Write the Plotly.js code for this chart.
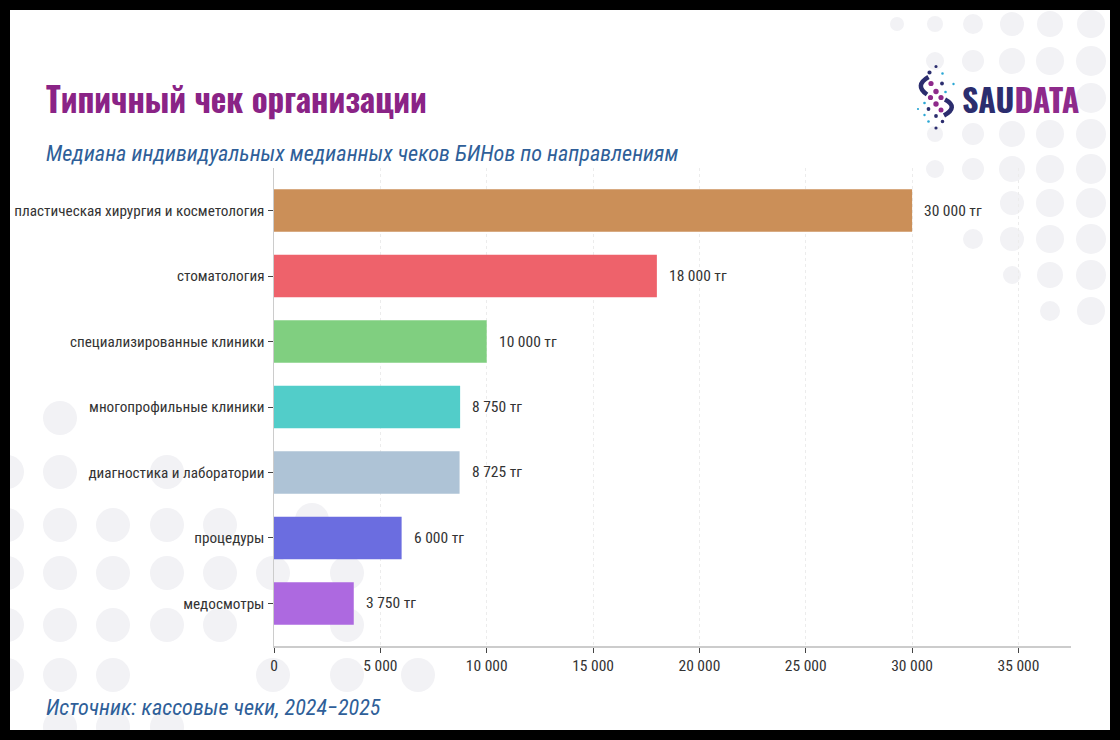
<!DOCTYPE html>
<html>
<head>
<meta charset="utf-8">
<script src="https://cdn.plot.ly/plotly-3.0.1.min.js"></script>
<style>
  html, body { margin: 0; padding: 0; background: #000; }
  #chart { position: absolute; left: 10px; top: 10px; width: 1100px; height: 720px; }
</style>
</head>
<body>
<div id="chart"></div>
<script>
// ---- data ----
const categories = [
  "пластическая хирургия и косметология",
  "стоматология",
  "специализированные клиники",
  "многопрофильные клиники",
  "диагностика и лаборатории",
  "процедуры",
  "медосмотры"
];
const values = [30000, 18000, 10000, 8750, 8725, 6000, 3750];
const barColors = ["#CB8F58", "#EE626B", "#80CF80", "#52CDC9", "#AEC3D6", "#6B6DE0", "#AD69E0"];
const currency = "тг";
const xTickValues = [0, 5000, 10000, 15000, 20000, 25000, 30000, 35000];

const titleText = "Типичный чек организации";
const subtitleText = "Медиана индивидуальных медианных чеков БИНов по направлениям";
const sourceText = "Источник: кассовые чеки, 2024−2025";

// ---- geometry helpers (page px -> paper) ----
const W = 1100, H = 720, OX = 10, OY = 10;
const M = { l: 264, r: 39, t: 158, b: 84 };
const PW = W - M.l - M.r, PH = H - M.t - M.b;
const px = x => (x - OX - M.l) / PW;
const py = y => 1 - (y - OY - M.t) / PH;

function fmt(v) {
  return String(v).replace(/\B(?=(\d{3})+(?!\d))/g, " ");
}

const condensed = "Roboto Condensed, Liberation Sans Narrow, DejaVu Sans Condensed, sans-serif";
const display = "Oswald, Liberation Sans Narrow, DejaVu Sans Condensed, sans-serif";

// ---- background decorative circles ----
const bgCircles = [
  // top-right
  [897,24,7],[935,24,8],[973,24,10],[1012,24,12],[1050,24,13],[1091,24,14],
  [935,61,9],[973,61,11],[1012,61,13],[1050,61,14],[1091,61,15],
  [1091,98,15],
  [935,134,8],[973,134,11],[1012,134,13],[1050,134,14],[1091,134,15],
  [935,169,9],[973,169,11],[1012,169,13],[1050,169,14],[1091,169,15],
  [1012,203,12],[1050,203,14],[1091,203,15],
  [973,239,10],[1012,239,12],[1050,239,14],[1091,239,15],
  [1012,275,9],[1050,275,13],[1091,275,15],
  [1050,311,10],[1091,311,14],
  // bottom-left
  [60,418,17],
  [7,472,17],[60,472,17],[167,472,17],
  [7,525,17],[60,525,17],[113,525,17],[167,525,17],[220,525,17],[312,520,17],
  [7,573,17],[60,573,17],[113,573,17],[167,573,17],[220,573,17],[273,573,17],[347,573,17],
  [7,625,17],[60,625,17],[113,625,17],[167,625,17],[220,625,17],[347,625,17],
  [7,675,17],[60,675,17],[113,675,17],[273,675,17],[347,675,17],[418,675,17],
  [60,727,17],[113,727,17],[167,727,17]
];

const shapes = bgCircles.map(([cx, cy, r]) => ({
  type: "circle", xref: "paper", yref: "paper", layer: "below",
  x0: px(cx - r), x1: px(cx + r), y0: py(cy + r), y1: py(cy - r),
  fillcolor: "#F2F2F5", line: { width: 0 }
}));

// ---- logo icon ----
const NAVY = "#2B2D6E", PURP = "#8E2A8B", CYAN = "#2AA7D4";
const logoDots = [
  [936,66.5,1.6,NAVY],[929.5,72.5,2.1,NAVY],[942.5,73.5,1.3,CYAN],
  [931,83.5,2.6,PURP],[942,83.5,1.9,NAVY],[953.5,84,1.2,CYAN],
  [936,91.5,2.7,PURP],[945.5,92,1.3,CYAN],
  [930.5,97.5,2.6,PURP],[941,97.5,2.6,PURP],
  [924.5,103,1.3,CYAN],[936,104,2.7,PURP],
  [918,109,1.1,CYAN],[928.5,109,1.9,NAVY],[941,110,2.5,PURP],
  [924.5,115,1.2,CYAN],[936,116,1.9,NAVY],
  [928.5,121.5,1.3,CYAN],[942.5,121.5,1.8,NAVY],
  [936,128,1.6,NAVY]
];
logoDots.forEach(([cx, cy, r, c]) => shapes.push({
  type: "circle", xref: "paper", yref: "paper", layer: "above",
  x0: px(cx - r), x1: px(cx + r), y0: py(cy + r), y1: py(cy - r),
  fillcolor: c, line: { width: 0 }
}));
function arcPath(a, c, b) {
  return `M ${px(a[0])} ${py(a[1])} Q ${px(c[0])} ${py(c[1])} ${px(b[0])} ${py(b[1])}`;
}
shapes.push({ type: "path", xref: "paper", yref: "paper", layer: "above",
  path: arcPath([928.5, 77], [914, 85.5], [927, 94.5]), line: { color: NAVY, width: 4.5 } });
shapes.push({ type: "path", xref: "paper", yref: "paper", layer: "above",
  path: arcPath([945, 99.5], [959, 107], [944, 115.5]), line: { color: NAVY, width: 4.5 } });

// ---- annotations ----
const annotations = [
  { text: titleText, xref: "paper", yref: "paper", x: px(44), y: py(99), xanchor: "left", yanchor: "middle",
    showarrow: false, font: { family: display, size: 33, color: "#8A2386", weight: "bold" } },
  { text: "<i>" + subtitleText + "</i>", xref: "paper", yref: "paper", x: px(44), y: py(153), xanchor: "left", yanchor: "middle",
    showarrow: false, font: { family: condensed, size: 22.2, color: "#2F5F99" } },
  { text: "<i>" + sourceText + "</i>", xref: "paper", yref: "paper", x: px(44), y: py(707), xanchor: "left", yanchor: "middle",
    showarrow: false, font: { family: condensed, size: 22.2, color: "#2F5F99" } },
  { text: "<b><span style='color:" + NAVY + "'>SAU</span><span style='color:" + PURP + "'>DATA</span></b>",
    xref: "paper", yref: "paper", x: px(960), y: py(98), xanchor: "left", yanchor: "middle",
    showarrow: false, font: { family: display, size: 32, color: NAVY } }
];
categories.forEach((c, i) => annotations.push({
  x: values[i], y: c, xref: "x", yref: "y", text: fmt(values[i]) + " " + currency,
  showarrow: false, xanchor: "left", yanchor: "middle", xshift: 10,
  font: { family: condensed, size: 15.5, color: "#333333" }
}));

const trace = {
  type: "bar", orientation: "h",
  y: categories, x: values,
  marker: { color: barColors, line: { width: 0 } },
  width: 0.65,
  hoverinfo: "x+y"
};

const layout = {
  width: W, height: H,
  margin: M,
  paper_bgcolor: "#FFFFFF",
  plot_bgcolor: "rgba(0,0,0,0)",
  separators: ", ",
  showlegend: false,
  xaxis: {
    range: [0, 37470],
    tickvals: xTickValues,
    tickformat: ",d",
    showgrid: true, gridcolor: "#ECECEC", griddash: "dot", gridwidth: 1,
    zeroline: false,
    showline: true, linecolor: "#CCCCCC", linewidth: 1.5,
    ticks: "outside", ticklen: 5, tickcolor: "#444444", tickwidth: 1,
    tickfont: { family: condensed, size: 15.5, color: "#333333" }
  },
  yaxis: {
    type: "category",
    categoryorder: "array", categoryarray: categories,
    range: [6.65, -0.65],
    showgrid: false, zeroline: false,
    showline: true, linecolor: "#CCCCCC", linewidth: 1.5,
    ticks: "outside", ticklen: 5, tickcolor: "#444444", tickwidth: 1,
    tickfont: { family: condensed, size: 15.2, color: "#333333" }
  },
  shapes: shapes,
  annotations: annotations
};

Plotly.newPlot("chart", [trace], layout, { displayModeBar: false, staticPlot: true });
</script>
</body>
</html>
